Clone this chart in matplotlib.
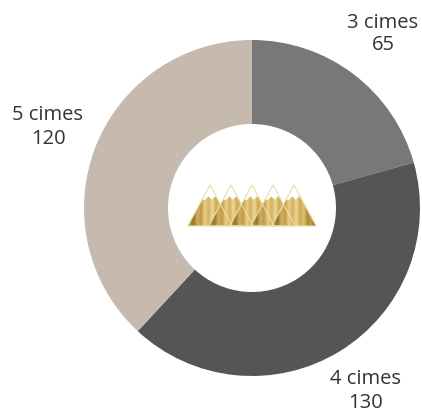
import matplotlib.pyplot as plt
import numpy as np
from matplotlib.patches import Polygon
from matplotlib.colors import LinearSegmentedColormap

plt.rcParams['font.family'] = ['Open Sans', 'DejaVu Sans']

# data
labels = ['3 cimes', '4 cimes', '5 cimes']
values = [65, 130, 120]
colors = ['#787878', '#555555', '#c6b9ae']

fig = plt.figure(figsize=(4.22, 4.12), dpi=100)
# axes placed so the donut centre sits at (252, 208) px, radius 168 px
ax = fig.add_axes([84 / 422, 36 / 412, 336 / 422, 336 / 412])
ax.pie(values, colors=colors, startangle=90, counterclock=False,
       radius=1, wedgeprops=dict(width=0.5, linewidth=0))
ax.set_xlim(-1, 1)
ax.set_ylim(-1, 1)
ax.set_aspect('equal')
ax.axis('off')

# labels (figure pixel positions)
label_pos = [(383, 34), (366, 391), (48, 127)]
for lab, val, (px, py) in zip(labels, values, label_pos):
    fig.text(px / 422, 1 - py / 412, f'{lab}\n{val}', ha='center', va='center',
             fontsize=14.5, color='#333333', linespacing=1.2)

# gold mountains logo in the hole
peaks = [-0.25, -0.125, 0.0, 0.125, 0.25]
top, base, hw = 0.137, -0.107, 0.132
g = np.linspace(0, 1, 200)
stripes = 0.2 + 0.6 * np.sin(g * np.pi) ** 1.5 + 0.12 * np.sin(g * np.pi * 12)
gimg = np.tile(np.clip(stripes, 0, 1), (10, 1))
gold = LinearSegmentedColormap.from_list('gold', ['#8a6a25', '#b38f3f', '#d2b160', '#ead48e'])
for px in peaks:
    tri = Polygon([(px - hw, base), (px, top), (px + hw, base)], closed=True,
                  facecolor='none', edgecolor='none')
    ax.add_patch(tri)
    im = ax.imshow(gimg, cmap=gold, extent=(px - hw, px + hw, base, top),
                   aspect='auto', zorder=3)
    im.set_clip_path(tri)
    # snow cap with jagged bottom
    f = 0.36
    sy = top - f * (top - base)
    sl, sr = px - f * hw, px + f * hw
    snow = [(px, top), (sr, sy)]
    xs = np.linspace(sr, sl, 6)
    for i, x in enumerate(xs[1:-1]):
        snow.append((x, sy + (0.02 if i % 2 == 0 else 0.0)))
    snow.append((sl, sy))
    ax.add_patch(Polygon(snow, closed=True, facecolor='white', edgecolor='none', zorder=4))
    ax.add_patch(Polygon([(px - hw, base), (px, top), (px + hw, base)], closed=True,
                         facecolor='none', edgecolor='#efdea8', linewidth=0.8, zorder=5))

fig.savefig('out.png', dpi=100)
